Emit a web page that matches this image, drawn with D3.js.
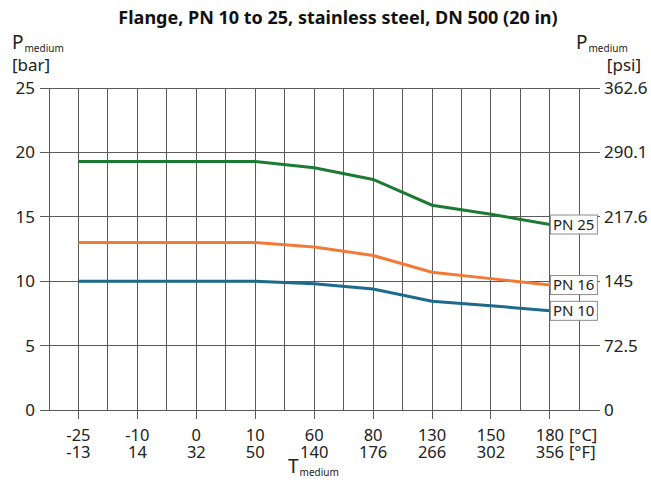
<!DOCTYPE html>
<html><head><meta charset="utf-8">
<script src="https://cdn.jsdelivr.net/npm/d3@7"></script>
<style>body{margin:0;background:#fff}svg{display:block;font-family:"Noto Sans",sans-serif}</style>
</head><body><svg id="c" width="651" height="480"></svg>
<script>
const tempC = ["-25","-10","0","10","60","80","130","150","180"];
const tempF = ["-13","14","32","50","140","176","266","302","356"];
const pn25 = [19.3,19.3,19.3,19.3,18.8,17.9,15.9,15.2,14.4];
const pn16 = [13.0,13.0,13.0,13.0,12.65,12.0,10.7,10.2,9.7];
const pn10 = [10.0,10.0,10.0,10.0,9.8,9.4,8.45,8.1,7.7];
const barTicks = [0,5,10,15,20,25];
const psiTicks = ["0","72.5","145","217.6","290.1","362.6"];
const seriesNames = ["PN 25","PN 16","PN 10"];
const seriesColors = ["#1d7a33","#f27a36","#1c6a8c"];

const svg = d3.select("#c");
const x = d3.scaleLinear().domain([-0.5, 8.85]).range([49, 600]);
const y = d3.scaleLinear().domain([0, 25]).range([410, 88]);
const gridColor = "#5a5a5a";

// vertical grid lines (half-steps)
const vg = d3.range(-0.5, 8.51, 0.5);
svg.append("g").selectAll("line").data(vg).join("line")
  .attr("x1", d => x(d)).attr("x2", d => x(d))
  .attr("y1", y(25)).attr("y2", y(0))
  .attr("stroke", gridColor).attr("stroke-width", 1).attr("shape-rendering","crispEdges");

// horizontal grid lines with left ticks
svg.append("g").selectAll("line").data(barTicks).join("line")
  .attr("x1", 40).attr("x2", 600)
  .attr("y1", d => y(d)).attr("y2", d => y(d))
  .attr("stroke", gridColor).attr("stroke-width", 1).attr("shape-rendering","crispEdges");

// x ticks below axis
svg.append("g").selectAll("line").data(tempC).join("line")
  .attr("x1", (d,i) => x(i)).attr("x2", (d,i) => x(i))
  .attr("y1", y(0)).attr("y2", y(0) + 9)
  .attr("stroke", gridColor).attr("stroke-width", 1).attr("shape-rendering","crispEdges");

// left tick labels
svg.append("g").selectAll("text").data(barTicks).join("text")
  .attr("x", 35).attr("y", d => y(d)).attr("dy", "0.35em")
  .attr("text-anchor", "end").attr("font-size", 17).attr("fill", "#222")
  .text(d => d);
// right tick labels
svg.append("g").selectAll("text").data(psiTicks).join("text")
  .attr("x", 604).attr("y", (d,i) => y(barTicks[i])).attr("dy", "0.35em")
  .attr("text-anchor", "start").attr("font-size", 17).attr("fill", "#222")
  .text(d => d);

// x labels
const xl = svg.append("g").attr("font-size", 16.5).attr("fill", "#222");
xl.selectAll("text.c").data(tempC).join("text").attr("class","c")
  .attr("x", (d,i) => x(i)).attr("y", 441).attr("text-anchor","middle").text(d => d);
xl.selectAll("text.f").data(tempF).join("text").attr("class","f")
  .attr("x", (d,i) => x(i)).attr("y", 458).attr("text-anchor","middle").text(d => d);
xl.append("text").attr("x", x(8) + 19).attr("y", 441).text("[°C]");
xl.append("text").attr("x", x(8) + 19).attr("y", 458).text("[°F]");

// lines
const line = d3.line().x((d,i) => x(i)).y(d => y(d));
const allSeries = [pn25, pn16, pn10];
allSeries.forEach((s, k) => {
  svg.append("path").datum(s).attr("d", line)
    .attr("fill","none").attr("stroke", seriesColors[k]).attr("stroke-width", 3);
});
// end labels
allSeries.forEach((s, k) => {
  const ex = x(s.length - 1), ey = y(s[s.length - 1]);
  svg.append("rect").attr("x", ex + 0.5).attr("y", ey - 9.5).attr("width", 47).attr("height", 19)
    .attr("fill","#fff").attr("stroke","#8a8a8a").attr("stroke-width",1);
  svg.append("text").attr("x", ex + 3).attr("y", ey).attr("dy","0.36em")
    .attr("font-size", 15).attr("fill","#222").text(seriesNames[k]);
});

// title
svg.append("text").attr("x", 338).attr("y", 24).attr("text-anchor","middle")
  .attr("font-size", 18).attr("font-weight","bold").attr("fill","#111")
  .text("Flange, PN 10 to 25, stainless steel, DN 500 (20 in)");

// axis titles
function pLabel(px, py) {
  const t = svg.append("text").attr("x", px).attr("y", py).attr("fill","#222");
  t.append("tspan").attr("font-size", 19).text("P");
  t.append("tspan").attr("font-size", 10).attr("dx", 1).attr("dy", 3).text("medium");
}
pLabel(12, 49);
svg.append("text").attr("x", 12).attr("y", 71).attr("font-size", 17).attr("fill","#222").text("[bar]");
pLabel(576, 49);
svg.append("text").attr("x", 641).attr("y", 71).attr("text-anchor","end").attr("font-size", 17).attr("fill","#222").text("[psi]");
const tl = svg.append("text").attr("x", 288).attr("y", 473).attr("fill","#222");
tl.append("tspan").attr("font-size", 19).text("T");
tl.append("tspan").attr("font-size", 10).attr("dx", 1).attr("dy", 3).text("medium");
</script></body></html>
